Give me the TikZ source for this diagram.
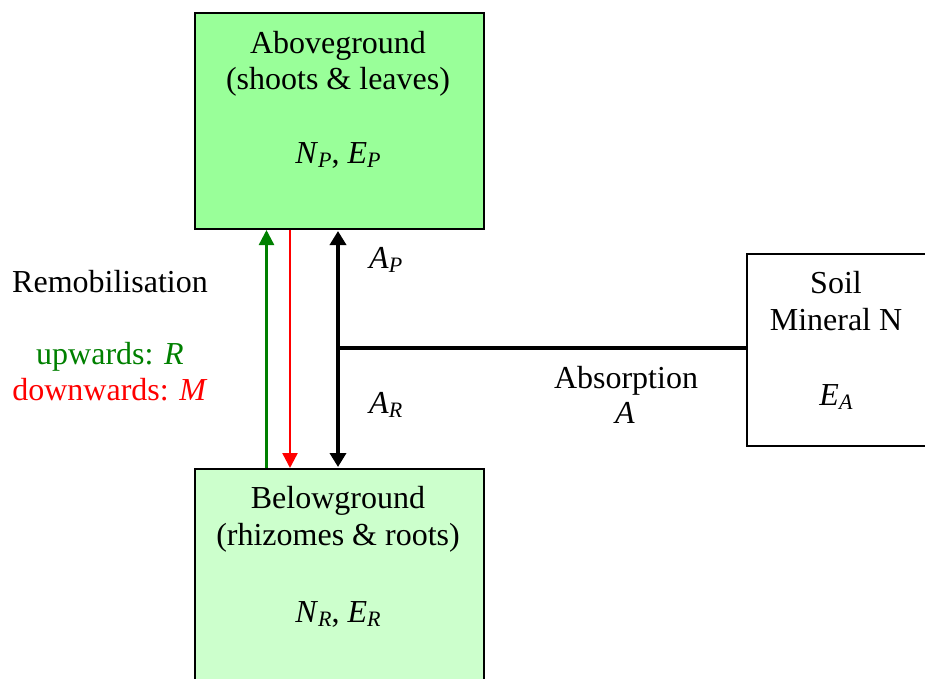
\documentclass[tikz,border=0pt]{standalone}
\usepackage{fontspec}
\setmainfont{Liberation Serif}
\usetikzlibrary{arrows.meta}

% italic symbol with a lowered italic subscript
\newcommand\symsub[2]{\textit{#1}\raisebox{-0.14em}{\fontsize{22}{22}\selectfont\textit{#2}}}

\definecolor{upgreen}{RGB}{0,128,0}
\definecolor{shootfill}{RGB}{153,255,153}
\definecolor{rootfill}{RGB}{204,255,204}

\tikzset{
  compartment/.style={draw=black, line width=2pt, inner sep=0pt, anchor=north west},
  lbl/.style={inner sep=0pt, anchor=base, font=\fontsize{32}{36}\selectfont},
  flowup/.style={draw=upgreen, line width=2.4pt, -{Triangle[length=15pt,width=15pt]}},
  flowdown/.style={draw=red, line width=2.4pt, -{Triangle[length=15pt,width=15pt]}},
  uptake/.style={draw=black, line width=3.8pt, {Triangle[length=14pt,width=16pt]}-{Triangle[length=14pt,width=16pt]}},
  uptakeline/.style={draw=black, line width=3.8pt},
}

\begin{document}
\begin{tikzpicture}[x=1pt,y=-1pt]
  \useasboundingbox (0,0) rectangle (925,678);
  \clip (0,0) rectangle (925,678);

  % compartments
  \node[compartment, fill=shootfill, minimum width=289pt, minimum height=216pt] (above) at (194,12) {};
  \node[compartment, fill=rootfill, minimum width=289pt, minimum height=240pt] (below) at (194,468) {};
  \node[compartment, fill=white, minimum width=200pt, minimum height=192pt] (soil) at (746,253) {};

  % compartment texts
  \node[lbl] (abvname) at (338,53) {Aboveground};
  \node[lbl] (abvsub) at (338,89) {(shoots \& leaves)};
  \node[lbl] (abvvar) at (338,163) {\symsub{N}{P}, \symsub{E}{P}};

  \node[lbl] (blwname) at (338,508) {Belowground};
  \node[lbl] (blwsub) at (338,545) {(rhizomes \& roots)};
  \node[lbl] (blwvar) at (338,622) {\symsub{N}{R}, \symsub{E}{R}};

  \node[lbl] (soilname) at (836,293) {Soil};
  \node[lbl] (soilsub) at (836,330) {Mineral N};
  \node[lbl] (soilvar) at (836,405) {\symsub{E}{A}};

  % remobilisation labels
  \node[lbl] (remob) at (110,292) {Remobilisation};
  \node[lbl, text=upgreen] (upw) at (110,364) {upwards: \textit{R}};
  \node[lbl, text=red] (downw) at (110,400) {downwards: \textit{M}};

  % absorption labels
  \node[lbl, anchor=base west] (ap) at (369,268) {\symsub{A}{P}};
  \node[lbl, anchor=base west] (ar) at (369,413) {\symsub{A}{R}};
  \node[lbl] (absname) at (626,388) {Absorption};
  \node[lbl] (absvar) at (625,423) {\textit{A}};

  % x positions of the vertical flows
  \coordinate (gx) at (266.5,0);
  \coordinate (rx) at (290,0);
  \coordinate (bx) at (338,0);
  \coordinate (junction) at (338,348);

  % remobilisation flows
  \draw[flowup] (gx |- below.north) -- (gx |- above.south);
  \draw[flowdown] (rx |- above.south) -- (rx |- below.north);

  % absorption split between shoots and roots
  \draw[uptake] ([yshift=-1pt]bx |- above.south) -- ([yshift=1pt]bx |- below.north);
  \draw[uptakeline] (junction) -- (junction -| soil.west);
\end{tikzpicture}
\end{document}
